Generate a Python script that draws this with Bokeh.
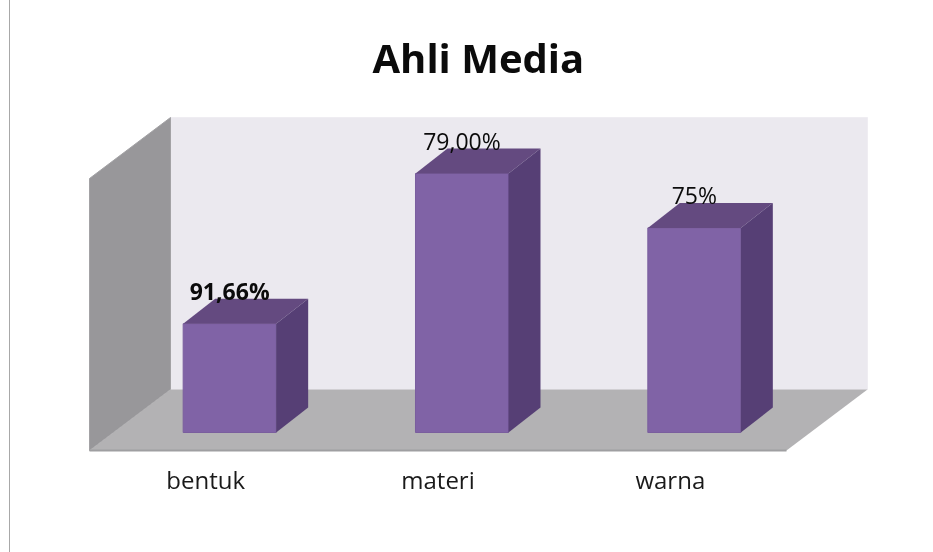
from bokeh.embed import file_html
from bokeh.resources import INLINE
from bokeh.plotting import figure
from bokeh.models import ColumnDataSource, Range1d, FixedTicker, InlineStyleSheet, LinearAxis
from bokeh.core.properties import value

# Data
categories = ["bentuk", "materi", "warna"]
bar_heights = [42, 100, 79]          # drawn heights (tallest bar = 100)
bar_labels = ["91,66%", "79,00%", "75%"]
label_styles = ["bold", "normal", "normal"]

# Scene geometry
PX_X = 232.33      # px per category
PX_Y = 2.59        # px per value unit
X0_PX = 89         # px of floor front-left corner
BASE_PX = 432      # px of value 0
W, H = 917, 536
FRAME_TOP, FRAME_BOTTOM = 85, 460
DX = 81 / PX_X     # depth of floor
DY = 61 / PX_Y
FLOOR_FRONT = -18 / PX_Y
WALL_H = 272 / PX_Y
BAR_W = 93 / PX_X
BAR_DX = 32 / PX_X
BAR_DY = 25 / PX_Y
BAR_SHIFT = 24 / PX_X
FONT = "Open Sans"

x_range = Range1d((0 - X0_PX) / PX_X, (W - X0_PX) / PX_X)
y_range = Range1d((BASE_PX - FRAME_BOTTOM) / PX_Y, (BASE_PX - FRAME_TOP) / PX_Y)

p = figure(width=W, height=H, x_range=x_range, y_range=y_range,
           output_backend="svg", toolbar_location=None, tools="",
           min_border_left=0, min_border_right=0, min_border_top=FRAME_TOP,
           min_border_bottom=H - FRAME_BOTTOM,
           border_fill_color=None, background_fill_color=None, outline_line_color=None,
           title="Ahli Media")
p.stylesheets = [InlineStyleSheet(css=":host::before{content:'';position:fixed;left:9px;top:0;width:1px;height:552px;background:#a8a8a8;}")]
p.grid.visible = False
p.yaxis.visible = False
p.xaxis.visible = False

p.title.align = "left"
p.title.offset = 372
p.title.text_font = FONT
p.title.text_font_size = "40px"
p.title.text_font_style = "bold"
p.title.text_color = "#0b0b0b"
p.title.standoff = 2

n = len(categories)
floor_x = [0, DX, n + DX, n]
floor_y = [FLOOR_FRONT, FLOOR_FRONT + DY, FLOOR_FRONT + DY, FLOOR_FRONT]
back_top = FLOOR_FRONT + DY + WALL_H

# back wall, left wall, floor
p.patch([DX, n + DX, n + DX, DX], [floor_y[1], floor_y[1], back_top, back_top],
        fill_color="#ebe9ef", line_color="#efedf2", line_width=1)
p.patch([0, DX, DX, 0], [FLOOR_FRONT, FLOOR_FRONT + DY, back_top, back_top - DY],
        fill_color="#98979a", line_color="#a3a2a5", line_width=1)
p.patch(floor_x, floor_y, fill_color="#b3b2b4", line_color=None)
p.line([0, n], [FLOOR_FRONT, FLOOR_FRONT], line_color="#9f9fa1", line_width=2)

# bars
for i, h in enumerate(bar_heights):
    l = i + 0.5 + BAR_SHIFT - BAR_W / 2
    r = l + BAR_W
    p.patch([l, r, r, l], [0, 0, h, h], fill_color="#8063a6", line_color="#7a5e9e", line_width=1)
    p.patch([l, r, r + BAR_DX, l + BAR_DX], [h, h, h + BAR_DY, h + BAR_DY],
            fill_color="#644a80", line_color=None)
    p.patch([r, r + BAR_DX, r + BAR_DX, r], [0, BAR_DY, h + BAR_DY, h],
            fill_color="#563f75", line_color=None)

src = ColumnDataSource(dict(
    x=[i + 0.5 + BAR_SHIFT for i in range(n)],
    y=bar_heights, t=bar_labels, s=label_styles))
p.text(x="x", y="y", text="t", source=src, text_font=value(FONT), text_font_size="23px",
       text_font_style="s", text_align="center", text_baseline="middle",
       text_color="#0b0b0b", y_offset=-33)

axis = LinearAxis(ticker=FixedTicker(ticks=[i + 0.5 for i in range(n)]),
                  major_label_overrides={i + 0.5: c for i, c in enumerate(categories)},
                  axis_line_color=None, major_tick_line_color=None, minor_tick_line_color=None,
                  major_tick_out=0, major_tick_in=0,
                  major_label_text_font=FONT, major_label_text_font_size="24px",
                  major_label_text_color="#1a1a1a", major_label_standoff=2)
p.add_layout(axis, "below")

open("out.html", "w").write(file_html(p, INLINE))
